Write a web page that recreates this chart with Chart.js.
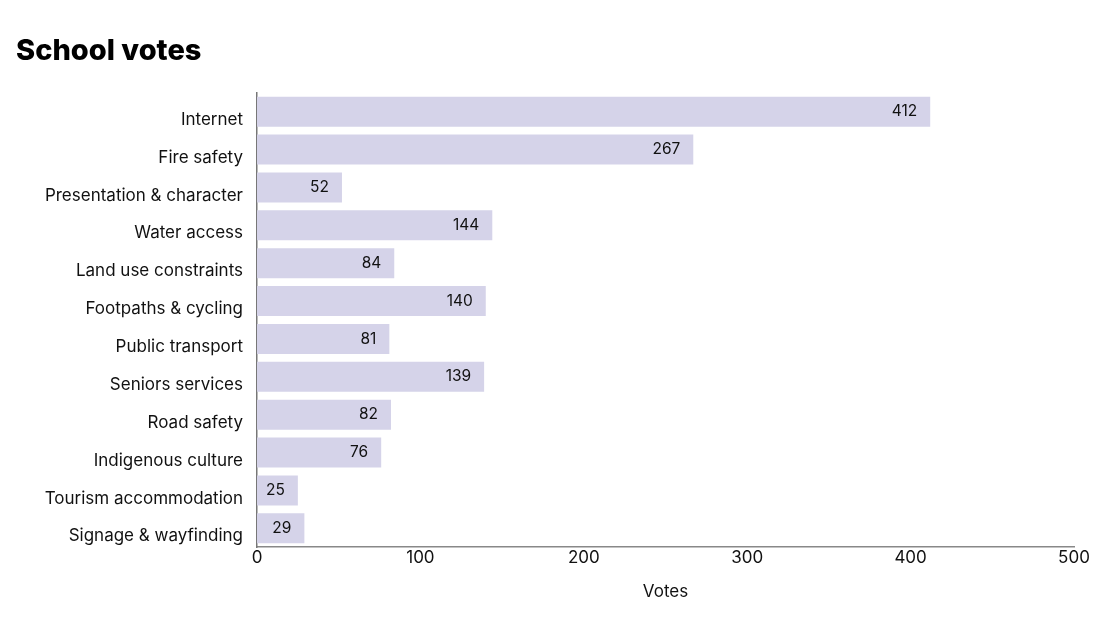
<!DOCTYPE html>
<html>
<head>
<meta charset="utf-8">
<script src="https://cdn.jsdelivr.net/npm/chart.js@4.4.1/dist/chart.umd.min.js"></script>
<style>
  html, body { margin: 0; padding: 0; background: #fff; }
  #wrap { width: 1114px; height: 625px; }
</style>
</head>
<body>
<div id="wrap"><canvas id="chart"></canvas></div>
<script>
const categories = [
  "Internet",
  "Fire safety",
  "Presentation & character",
  "Water access",
  "Land use constraints",
  "Footpaths & cycling",
  "Public transport",
  "Seniors services",
  "Road safety",
  "Indigenous culture",
  "Tourism accommodation",
  "Signage & wayfinding"
];
const votes = [412, 267, 52, 144, 84, 140, 81, 139, 82, 76, 25, 29];
const xTicks = [0, 100, 200, 300, 400, 500];

const FONT = "Inter, 'Noto Sans', sans-serif";

// draw each value inside the end of its bar
const valueLabels = {
  id: "valueLabels",
  afterDatasetsDraw(chart) {
    const ctx = chart.ctx;
    const meta = chart.getDatasetMeta(0);
    ctx.save();
    ctx.font = "15.5px " + FONT;
    ctx.fillStyle = "#111";
    ctx.textAlign = "right";
    ctx.textBaseline = "middle";
    meta.data.forEach((bar, i) => {
      ctx.fillText(String(votes[i]), bar.x - 13, bar.y);
    });
    ctx.restore();
  }
};

new Chart(document.getElementById("chart"), {
  type: "bar",
  data: {
    labels: categories,
    datasets: [{
      data: votes,
      backgroundColor: "#d5d3e9",
      borderWidth: 0,
      barPercentage: 0.9,
      categoryPercentage: 0.88
    }]
  },
  options: {
    indexAxis: "y",
    responsive: true,
    maintainAspectRatio: false,
    animation: false,
    layout: { padding: { left: 16, right: 40, top: 12, bottom: 19 } },
    plugins: {
      legend: { display: false },
      tooltip: { enabled: false },
      title: {
        display: true,
        text: "School votes",
        align: "start",
        color: "#000",
        font: { family: FONT, size: 29, weight: "800" },
        padding: { top: 22, bottom: 24 }
      }
    },
    scales: {
      x: {
        min: 0,
        max: 500,
        afterBuildTicks(axis) {
          axis.ticks = xTicks.map(v => ({ value: v }));
        },
        grid: { display: false, drawTicks: false },
        border: { display: true, color: "#888", width: 1.5 },
        ticks: {
          color: "#111",
          padding: 0,
          font: { family: FONT, size: 17 }
        },
        title: {
          display: true,
          text: "Votes",
          color: "#111",
          font: { family: FONT, size: 17 },
          padding: { top: 14 }
        }
      },
      y: {
        afterFit(axis) {
          axis.width = 241;
        },
        grid: { display: false, drawTicks: false },
        border: { display: true, color: "#777", width: 1.5 },
        ticks: {
          color: "#111",
          padding: 14,
          labelOffset: 8,
          font: { family: FONT, size: 17 }
        }
      }
    }
  },
  plugins: [valueLabels]
});
</script>
</body>
</html>
